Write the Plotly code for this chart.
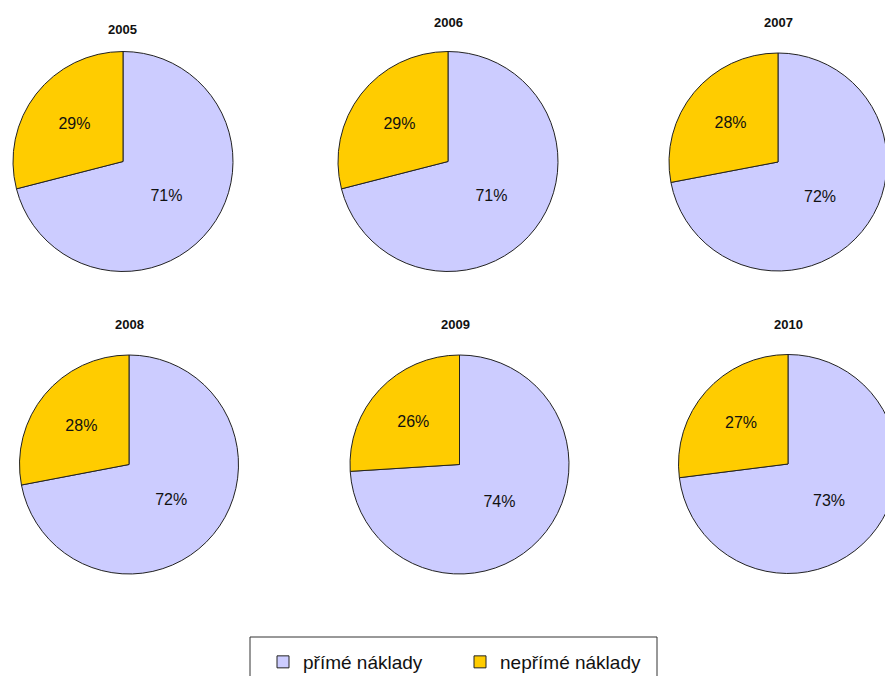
import plotly.graph_objects as go

years = ["2005", "2006", "2007", "2008", "2009", "2010"]
prime_costs = [71, 71, 72, 72, 74, 73]
indirect_costs = [29, 29, 28, 28, 26, 27]
labels = ["přímé náklady", "nepřímé náklady"]
colors = ["#CCCCFF", "#FFCC00"]

# figure a bit wider than the window: the right-hand pies are cut off in the reference
W, H = 900, 676
centers = [(123, 161.5), (448, 161.5), (778, 162), (129, 464.5), (459.5, 464.5), (788, 464)]
radii = [110, 110, 109, 109.5, 109.5, 109.5]
title_pos = [(122, 29), (448, 22), (778, 22), (129, 324), (455, 324), (788, 324)]

fig = go.Figure()
for i, yr in enumerate(years):
    cx, cy = centers[i]
    r = radii[i]
    fig.add_trace(go.Pie(
        labels=labels,
        values=[prime_costs[i], indirect_costs[i]],
        sort=False,
        direction="clockwise",
        rotation=0,
        marker=dict(colors=colors, line=dict(color="#222222", width=1)),
        texttemplate="%{value}%",
        textposition="inside",
        insidetextorientation="horizontal",
        textfont=dict(family="Liberation Sans, Arial, sans-serif", size=16, color="#111111"),
        domain=dict(x=[(cx - r) / W, (cx + r) / W], y=[1 - (cy + r) / H, 1 - (cy - r) / H]),
        showlegend=(i == 0),
        hoverinfo="label+value",
        name=yr,
    ))
    tx, ty = title_pos[i]
    fig.add_annotation(
        x=tx / W, y=1 - ty / H, xref="paper", yref="paper",
        text="<b>" + yr + "</b>", showarrow=False,
        font=dict(family="Liberation Sans, Arial, sans-serif", size=13, color="#111111"),
        xanchor="center", yanchor="middle",
    )

# legend frame
fig.add_shape(type="rect", xref="paper", yref="paper",
              x0=250 / W, x1=657 / W, y0=-20 / H, y1=1 - 637 / H,
              line=dict(color="#333333", width=1), fillcolor="rgba(0,0,0,0)")

fig.update_layout(
    width=W, height=H,
    margin=dict(l=0, r=0, t=0, b=0, autoexpand=False),
    paper_bgcolor="white",
    plot_bgcolor="white",
    showlegend=True,
    legend=dict(
        orientation="h",
        xref="container", yref="container",
        x=263 / W, xanchor="left",
        y=(H - 662) / H, yanchor="middle",
        font=dict(family="Liberation Sans, Arial, sans-serif", size=19, color="#111111"),
        bgcolor="rgba(0,0,0,0)",
        entrywidth=152,
        itemclick=False,
    ),
)

fig.write_html(
    "out.html",
    post_script="document.documentElement.style.overflow='hidden';document.body.style.overflow='hidden';",
)
